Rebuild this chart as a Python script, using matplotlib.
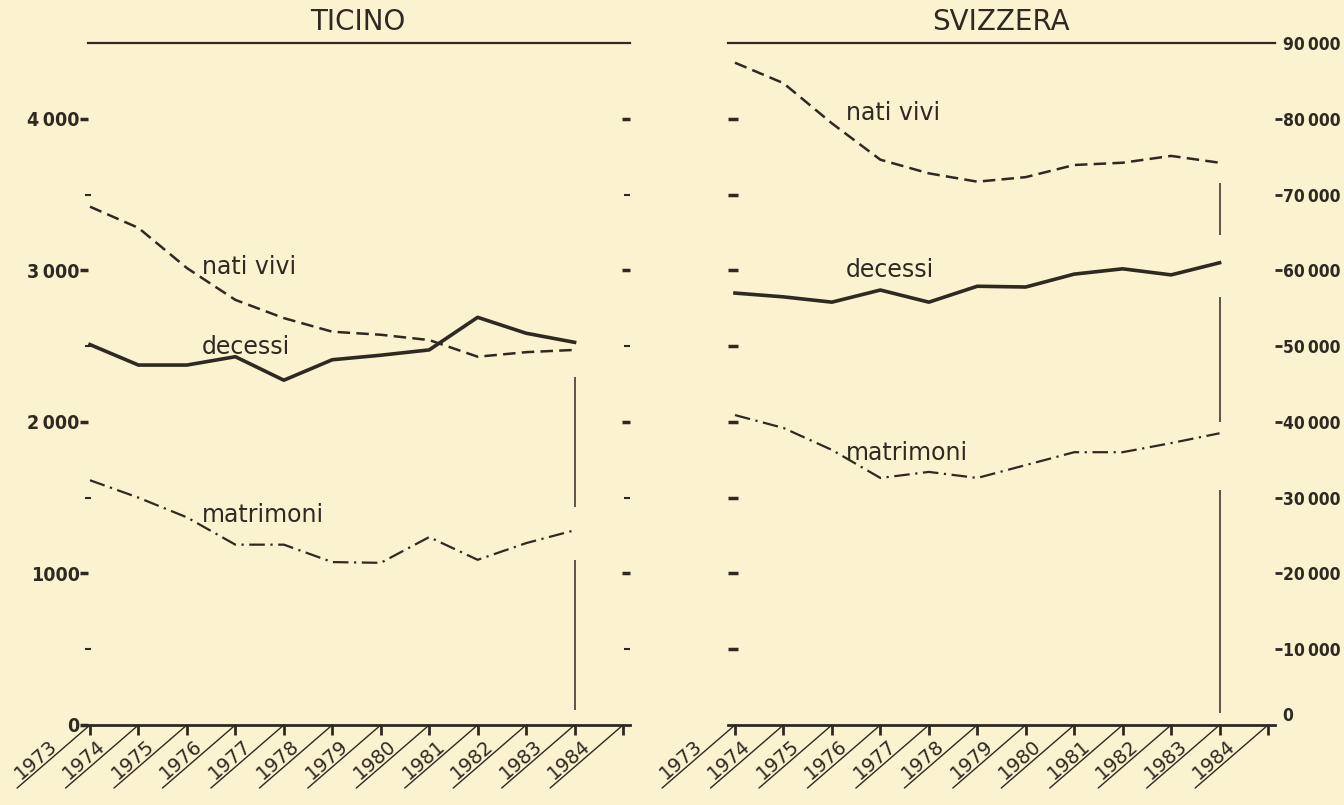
import matplotlib
matplotlib.use('Agg')
import matplotlib.pyplot as plt
from matplotlib import font_manager

# years on the slanted axis and years that carry data
tick_years = list(range(1973, 1985))
data_years = list(range(1973, 1984))

ticino_nati = [3420, 3280, 3015, 2805, 2685, 2595, 2575, 2540, 2430, 2460, 2475]
ticino_decessi = [2510, 2375, 2375, 2430, 2275, 2410, 2440, 2475, 2690, 2585, 2525]
ticino_matrimoni = [1615, 1500, 1370, 1190, 1190, 1075, 1070, 1240, 1090, 1200, 1285]

svizzera_nati = [87400, 84700, 79400, 74600, 72800, 71700, 72300, 73900, 74200, 75100, 74200]
svizzera_decessi = [57000, 56500, 55800, 57400, 55800, 57900, 57800, 59500, 60200, 59400, 61000]
svizzera_matrimoni = [40900, 39200, 36300, 32600, 33400, 32600, 34300, 36000, 36000, 37200, 38500]

# broken vertical line drawn at the last data year (from, to)
ticino_marker = [(2295, 1440), (1090, 100)]
svizzera_marker = [(71500, 64700), (56500, 40000), (31000, 1600)]

ticino_yticks = [0, 1000, 2000, 3000, 4000]
ticino_ylabels = ['0', '1000', '2\u2009000', '3\u2009000', '4\u2009000']
svizzera_yticks = [0, 10000, 20000, 30000, 40000, 50000, 60000, 70000, 80000, 90000]
svizzera_ylabels = ['0', '10\u2009000', '20\u2009000', '30\u2009000', '40\u2009000', '50\u2009000',
                    '60\u2009000', '70\u2009000', '80\u2009000', '90\u2009000']

paper = '#FBF2CF'
ink = '#2E2A22'

# the scale numbers are printed in a narrow bold face; use the narrowest one available
installed = font_manager.fontManager.ttflist
if any(f.name == 'Liberation Sans Narrow' for f in installed):
    num_style = dict(fontfamily='Liberation Sans Narrow', fontweight='bold')
    left_size, right_size = 17, 15
elif any(f.name == 'DejaVu Sans' and f.stretch == 'condensed' for f in installed):
    num_style = dict(fontfamily='DejaVu Sans', fontstretch='condensed', fontweight='bold')
    left_size, right_size = 14, 12.5
else:
    num_style = dict(fontfamily='Liberation Sans', fontweight='bold')
    left_size, right_size = 14, 12.5

plt.rcParams['font.family'] = ['DejaVu Sans']

fig = plt.figure(figsize=(13.44, 8.05), dpi=100, facecolor=paper)

ax1 = fig.add_axes([0.06548, 0.09938, 0.40327, 0.84720])
ax2 = fig.add_axes([0.54167, 0.09938, 0.40699, 0.84720])


def draw_panel(ax, nati, decessi, matrimoni, marker, ymax, xlim):
    ax.set_facecolor(paper)
    ax.set_xlim(*xlim)
    ax.set_ylim(0, ymax)
    for side in ['left', 'right']:
        ax.spines[side].set_visible(False)
    ax.spines['top'].set_linewidth(1.6)
    ax.spines['bottom'].set_linewidth(2.0)
    ax.spines['top'].set_color(ink)
    ax.spines['bottom'].set_color(ink)

    ax.plot(data_years, decessi, color=ink, lw=2.6)
    ax.plot(data_years, nati, color=ink, lw=1.8, linestyle=(0, (5, 2.5)))
    ax.plot(data_years, matrimoni, color=ink, lw=1.6, linestyle=(0, (7, 2.5, 1, 2.5)))
    for a, b in marker:
        ax.vlines(data_years[-1], b, a, color=ink, lw=1.1)

    # x axis: ticks with slanted, underlined year labels
    ax.set_xticks(tick_years)
    ax.set_xticklabels([''] * len(tick_years))
    ax.tick_params(axis='x', direction='out', length=7, width=2, color=ink)
    for yr in tick_years:
        ax.annotate('', xy=(yr, 0), xytext=(-52.5, -45.4), textcoords='offset points',
                    annotation_clip=False,
                    arrowprops=dict(arrowstyle='-', lw=1.0, color=ink, shrinkA=0, shrinkB=0))
        ax.annotate(str(yr), xy=(yr, 0), xytext=(-21.0, -18.5), textcoords='offset points',
                    rotation=41, rotation_mode='anchor', ha='right', va='bottom',
                    fontsize=14, color=ink, annotation_clip=False)


# ---- TICINO
draw_panel(ax1, ticino_nati, ticino_decessi, ticino_matrimoni, ticino_marker,
           4500, (1972.959, 1984.144))
ax1.set_yticks(ticino_yticks)
ax1.set_yticklabels(ticino_ylabels, color=ink, fontsize=left_size, **num_style)
ax1.set_yticks([500, 1500, 2500, 3500], minor=True)
ax1.tick_params(axis='y', which='major', direction='out', length=6, width=2.5, pad=0, color=ink)
ax1.tick_params(axis='y', which='minor', direction='inout', length=5, width=1.5, color=ink)
ax1.yaxis.get_major_ticks()[0].tick1line.set_visible(False)

tw1 = ax1.twinx()
tw1.set_ylim(0, 4500)
for side in tw1.spines:
    tw1.spines[side].set_visible(False)
tw1.set_yticks([1000, 2000, 3000, 4000])
tw1.set_yticks([500, 1500, 2500, 3500], minor=True)
tw1.set_yticklabels([])
tw1.tick_params(axis='y', which='major', direction='in', length=6, width=2.5, color=ink)
tw1.tick_params(axis='y', which='minor', direction='in', length=4, width=1.5, color=ink)

ax1.text(1975.31, 3021, 'nati vivi', fontsize=17, color=ink, va='center')
ax1.text(1975.31, 2493, 'decessi', fontsize=17, color=ink, va='center')
ax1.text(1975.31, 1385, 'matrimoni', fontsize=17, color=ink, va='center')

# ---- SVIZZERA
draw_panel(ax2, svizzera_nati, svizzera_decessi, svizzera_matrimoni, svizzera_marker,
           90000, (1972.856, 1984.144))
ax2.set_yticks(svizzera_yticks[1:-1])
ax2.set_yticklabels([])
ax2.tick_params(axis='y', which='major', direction='in', length=7, width=2.5, color=ink)

tw2 = ax2.twinx()
tw2.set_ylim(0, 90000)
for side in tw2.spines:
    tw2.spines[side].set_visible(False)
tw2.set_yticks(svizzera_yticks)
tw2.set_yticklabels(svizzera_ylabels, color=ink, fontsize=right_size, **num_style)
tw2.tick_params(axis='y', which='major', direction='out', length=5, width=2, pad=0.5, color=ink)
tw2.yaxis.get_major_ticks()[0].tick2line.set_visible(False)
tw2.yaxis.get_major_ticks()[-1].tick2line.set_visible(False)
tw2.get_yticklabels()[0].set_va('bottom')

ax2.text(1975.29, 80760, 'nati vivi', fontsize=17, color=ink, va='center')
ax2.text(1975.29, 60044, 'decessi', fontsize=17, color=ink, va='center')
ax2.text(1975.29, 35890, 'matrimoni', fontsize=17, color=ink, va='center')

# panel titles
fig.text(358 / 1344, 1 - 22 / 805, 'TICINO', fontsize=20, color=ink, ha='center', va='center')
fig.text(1001 / 1344, 1 - 22 / 805, 'SVIZZERA', fontsize=20, color=ink, ha='center', va='center')

fig.savefig('out.png', dpi=100, facecolor=paper)
